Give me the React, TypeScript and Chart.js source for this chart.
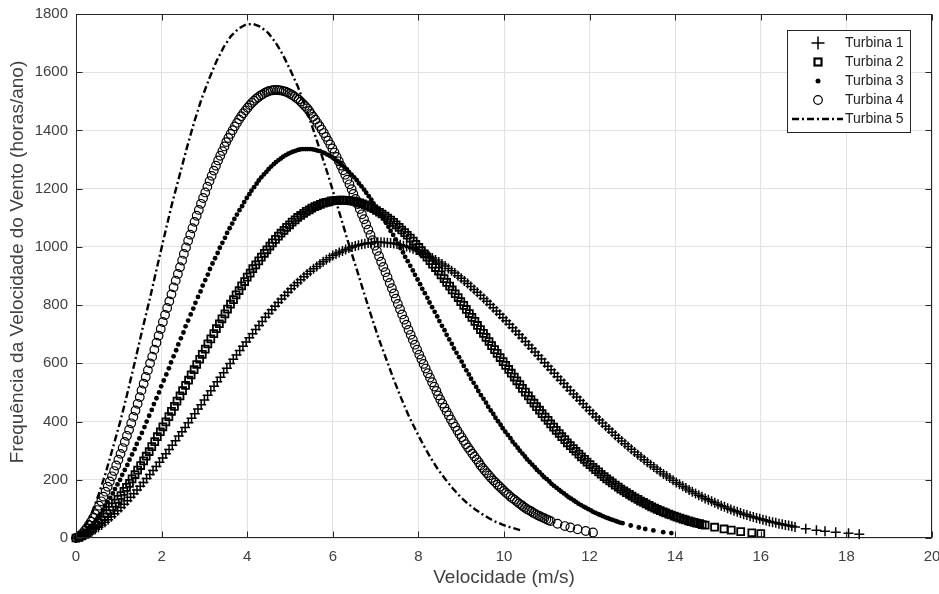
import React, { useEffect, useRef } from "react";
import { Chart, registerables } from "chart.js";

Chart.register(...registerables);

const FONT = '"Liberation Sans", Arial, Helvetica, sans-serif';
const TEXT = "#404040";
const AXIS = "#262626";

const X_TICKS = [0, 2, 4, 6, 8, 10, 12, 14, 16, 18, 20];
const Y_TICKS = [0, 200, 400, 600, 800, 1000, 1200, 1400, 1600, 1800];
const X_TITLE = "Velocidade (m/s)";
const Y_TITLE = "Frequência da Velocidade do Vento (horas/ano)";
const NAMES = ["Turbina 1", "Turbina 2", "Turbina 3", "Turbina 4", "Turbina 5"];

const T1_X = [0, 0.15, 0.3, 0.45, 0.6, 0.75, 0.9, 1.05, 1.2, 1.35, 1.5, 1.65, 1.8, 1.95, 2.1, 2.25, 2.4, 2.55, 2.7, 2.85, 3, 3.15, 3.3, 3.45, 3.6, 3.75, 3.9, 4.05, 4.2, 4.35, 4.5, 4.65, 4.8, 4.95, 5.1, 5.25, 5.4, 5.55, 5.7, 5.85, 6, 6.15, 6.3, 6.45, 6.6, 6.75, 6.9, 7.05, 7.2, 7.35, 7.5, 7.65, 7.8, 7.95, 8.1, 8.25, 8.4, 8.55, 8.7, 8.85, 9, 9.15, 9.3, 9.45, 9.6, 9.75, 9.9, 10.05, 10.2, 10.35, 10.5, 10.65, 10.8, 10.95, 11.1, 11.25, 11.4, 11.55, 11.7, 11.85, 12, 12.15, 12.3, 12.45, 12.6, 12.75, 12.9, 13.05, 13.2, 13.35, 13.5, 13.65, 13.8, 13.95, 14.1, 14.25, 14.4, 14.55, 14.7, 14.85, 15, 15.15, 15.3, 15.45, 15.6, 15.75, 15.9, 16.05, 16.2, 16.35, 16.5, 16.65, 16.8, 17.05, 17.3, 17.5, 17.75, 18.05, 18.3];
const T1_Y = [0, 6, 16, 30, 45, 63, 83, 105, 128, 152, 178, 204, 232, 260, 289, 319, 350, 380, 411, 443, 474, 506, 537, 568, 599, 629, 659, 688, 716, 744, 771, 796, 821, 844, 867, 887, 907, 925, 941, 956, 970, 981, 991, 1000, 1006, 1011, 1014, 1016, 1015, 1013, 1010, 1004, 998, 989, 979, 968, 955, 941, 926, 910, 892, 874, 854, 834, 813, 791, 769, 746, 722, 699, 675, 651, 627, 602, 578, 554, 531, 507, 484, 461, 438, 416, 395, 374, 353, 333, 314, 295, 278, 260, 244, 228, 213, 198, 185, 172, 159, 147, 136, 126, 116, 107, 98, 90, 82, 75, 69, 63, 57, 52, 47, 43, 38, 32, 27, 23, 20, 16, 13];
const T1M_X = [0.075, 0.225, 0.375, 0.525, 0.675, 0.825, 0.975, 1.125, 1.275, 1.425, 1.575, 1.725, 1.875, 2.025, 2.175, 2.325, 2.475, 2.625, 2.775, 2.925, 3.075, 3.225, 3.375, 3.525, 3.675, 3.825, 3.975, 4.125, 4.275, 4.425, 4.575, 4.725, 4.875, 5.025, 5.175, 5.325, 5.475, 5.625, 5.775, 5.925, 6.075, 6.225, 6.375, 6.525, 6.675, 6.825, 6.975, 7.125, 7.275, 7.425, 7.575, 7.725, 7.875, 8.025, 8.175, 8.325, 8.475, 8.625, 8.775, 8.925, 9.075, 9.225, 9.375, 9.525, 9.675, 9.825, 9.975, 10.125, 10.275, 10.425, 10.575, 10.725, 10.875, 11.025, 11.175, 11.325, 11.475, 11.625, 11.775, 11.925, 12.075, 12.225, 12.375, 12.525, 12.675, 12.825, 12.975, 13.125, 13.275, 13.425, 13.575, 13.725, 13.875, 14.025, 14.175, 14.325, 14.475, 14.625, 14.775, 14.925, 15.075, 15.225, 15.375, 15.525, 15.675, 15.825, 15.975, 16.125, 16.275, 16.425, 16.575, 16.725];
const T1M_Y = [2, 10, 22, 37, 54, 73, 94, 116, 140, 165, 191, 218, 246, 275, 304, 334, 365, 396, 427, 458, 490, 521, 552, 583, 614, 644, 673, 702, 730, 758, 784, 809, 833, 856, 877, 897, 916, 933, 949, 963, 976, 986, 996, 1003, 1009, 1013, 1015, 1016, 1014, 1012, 1007, 1001, 994, 984, 974, 962, 948, 934, 918, 901, 883, 864, 844, 823, 802, 780, 757, 734, 711, 687, 663, 639, 615, 590, 566, 542, 519, 495, 472, 449, 427, 405, 384, 363, 343, 324, 305, 286, 269, 252, 236, 220, 206, 191, 178, 165, 153, 142, 131, 121, 111, 102, 94, 86, 79, 72, 66, 60, 54, 49, 45, 40];

const T2_X = [0, 0.13, 0.26, 0.39, 0.53, 0.66, 0.79, 0.92, 1.05, 1.18, 1.31, 1.44, 1.58, 1.71, 1.84, 1.97, 2.1, 2.23, 2.36, 2.49, 2.63, 2.76, 2.89, 3.02, 3.15, 3.28, 3.41, 3.54, 3.68, 3.81, 3.94, 4.07, 4.2, 4.33, 4.46, 4.59, 4.73, 4.86, 4.99, 5.12, 5.25, 5.38, 5.51, 5.64, 5.78, 5.91, 6.04, 6.17, 6.3, 6.43, 6.56, 6.69, 6.83, 6.96, 7.09, 7.22, 7.35, 7.48, 7.61, 7.74, 7.88, 8.01, 8.14, 8.27, 8.4, 8.53, 8.66, 8.79, 8.93, 9.06, 9.19, 9.32, 9.45, 9.58, 9.71, 9.84, 9.98, 10.11, 10.24, 10.37, 10.5, 10.63, 10.76, 10.89, 11.03, 11.16, 11.29, 11.42, 11.55, 11.68, 11.81, 11.94, 12.08, 12.21, 12.34, 12.47, 12.6, 12.73, 12.86, 12.99, 13.13, 13.26, 13.39, 13.52, 13.65, 13.78, 13.91, 14.04, 14.18, 14.31, 14.44, 14.57, 14.7, 14.92, 15.14, 15.31, 15.53, 15.79, 16.0];
const T2_Y = [0, 7, 18, 34, 52, 73, 95, 120, 146, 174, 203, 233, 265, 297, 331, 365, 399, 435, 470, 506, 542, 578, 614, 649, 684, 719, 753, 786, 819, 850, 881, 910, 938, 965, 990, 1014, 1037, 1057, 1076, 1093, 1108, 1122, 1133, 1142, 1150, 1155, 1159, 1161, 1160, 1158, 1154, 1148, 1140, 1131, 1119, 1106, 1092, 1076, 1058, 1040, 1020, 998, 976, 953, 929, 904, 878, 852, 826, 799, 771, 744, 716, 689, 661, 634, 606, 579, 553, 527, 501, 475, 451, 427, 404, 381, 359, 338, 317, 298, 279, 261, 243, 227, 211, 196, 182, 168, 156, 144, 133, 122, 112, 103, 94, 86, 79, 72, 65, 59, 54, 49, 44, 37, 31, 27, 22, 18, 15];
const T2M_X = [0.07, 0.2, 0.33, 0.46, 0.59, 0.72, 0.85, 0.98, 1.12, 1.25, 1.38, 1.51, 1.64, 1.77, 1.9, 2.03, 2.17, 2.3, 2.43, 2.56, 2.69, 2.82, 2.95, 3.08, 3.22, 3.35, 3.48, 3.61, 3.74, 3.87, 4.0, 4.13, 4.27, 4.4, 4.53, 4.66, 4.79, 4.92, 5.05, 5.18, 5.32, 5.45, 5.58, 5.71, 5.84, 5.97, 6.1, 6.23, 6.37, 6.5, 6.63, 6.76, 6.89, 7.02, 7.15, 7.28, 7.42, 7.55, 7.68, 7.81, 7.94, 8.07, 8.2, 8.33, 8.47, 8.6, 8.73, 8.86, 8.99, 9.12, 9.25, 9.38, 9.52, 9.65, 9.78, 9.91, 10.04, 10.17, 10.3, 10.43, 10.57, 10.7, 10.83, 10.96, 11.09, 11.22, 11.35, 11.48, 11.62, 11.75, 11.88, 12.01, 12.14, 12.27, 12.4, 12.53, 12.67, 12.8, 12.93, 13.06, 13.19, 13.32, 13.45, 13.58, 13.72, 13.85, 13.98, 14.11, 14.24, 14.37, 14.5, 14.63];
const T2M_Y = [2, 12, 26, 43, 62, 84, 107, 133, 160, 188, 218, 249, 281, 314, 348, 382, 417, 452, 488, 524, 560, 596, 631, 667, 702, 736, 770, 803, 835, 866, 896, 925, 952, 978, 1003, 1026, 1047, 1067, 1085, 1101, 1115, 1127, 1138, 1146, 1153, 1158, 1160, 1161, 1159, 1156, 1151, 1144, 1136, 1125, 1113, 1099, 1084, 1067, 1049, 1030, 1009, 987, 965, 941, 917, 891, 865, 839, 812, 785, 758, 730, 703, 675, 647, 620, 593, 566, 540, 514, 488, 463, 439, 415, 392, 370, 348, 327, 307, 288, 270, 252, 235, 219, 203, 189, 175, 162, 150, 138, 127, 117, 107, 98, 90, 82, 75, 68, 62, 56, 51, 46];

const T3_X = [0, 0.11, 0.23, 0.34, 0.46, 0.57, 0.68, 0.8, 0.91, 1.03, 1.14, 1.25, 1.37, 1.48, 1.6, 1.71, 1.82, 1.94, 2.05, 2.17, 2.28, 2.39, 2.51, 2.62, 2.74, 2.85, 2.96, 3.08, 3.19, 3.31, 3.42, 3.53, 3.65, 3.76, 3.88, 3.99, 4.1, 4.22, 4.33, 4.45, 4.56, 4.67, 4.79, 4.9, 5.02, 5.13, 5.24, 5.36, 5.47, 5.59, 5.7, 5.81, 5.93, 6.04, 6.16, 6.27, 6.38, 6.5, 6.61, 6.73, 6.84, 6.95, 7.07, 7.18, 7.3, 7.41, 7.52, 7.64, 7.75, 7.87, 7.98, 8.09, 8.21, 8.32, 8.44, 8.55, 8.66, 8.78, 8.89, 9.01, 9.12, 9.23, 9.35, 9.46, 9.58, 9.69, 9.8, 9.92, 10.03, 10.15, 10.26, 10.37, 10.49, 10.6, 10.72, 10.83, 10.94, 11.06, 11.17, 11.29, 11.4, 11.51, 11.63, 11.74, 11.86, 11.97, 12.08, 12.2, 12.31, 12.43, 12.54, 12.65, 12.77, 12.96, 13.15, 13.3, 13.49, 13.72, 13.91];
const T3_Y = [0, 8, 21, 39, 60, 83, 110, 138, 168, 200, 234, 269, 305, 342, 381, 420, 460, 500, 541, 583, 624, 665, 706, 747, 788, 828, 867, 905, 943, 979, 1014, 1048, 1080, 1111, 1140, 1168, 1193, 1217, 1239, 1258, 1276, 1291, 1304, 1315, 1324, 1330, 1335, 1336, 1336, 1333, 1329, 1322, 1313, 1302, 1289, 1274, 1257, 1239, 1218, 1197, 1174, 1149, 1124, 1097, 1069, 1041, 1011, 981, 951, 919, 888, 856, 825, 793, 761, 729, 698, 667, 636, 606, 576, 547, 519, 491, 465, 438, 413, 389, 365, 343, 321, 300, 280, 261, 243, 226, 209, 194, 179, 165, 153, 140, 129, 118, 108, 99, 90, 82, 75, 68, 62, 56, 51, 43, 36, 31, 26, 20, 17];
const T3M_X = [0.06, 0.17, 0.29, 0.4, 0.51, 0.63, 0.74, 0.86, 0.97, 1.08, 1.2, 1.31, 1.42, 1.54, 1.65, 1.77, 1.88, 1.99, 2.11, 2.22, 2.34, 2.45, 2.56, 2.68, 2.79, 2.91, 3.02, 3.13, 3.25, 3.36, 3.48, 3.59, 3.7, 3.82, 3.93, 4.05, 4.16, 4.27, 4.39, 4.5, 4.62, 4.73, 4.84, 4.96, 5.07, 5.19, 5.3, 5.41, 5.53, 5.64, 5.76, 5.87, 5.99, 6.1, 6.21, 6.33, 6.44, 6.56, 6.67, 6.78, 6.9, 7.01, 7.13, 7.24, 7.35, 7.47, 7.58, 7.69, 7.81, 7.92, 8.04, 8.15, 8.26, 8.38, 8.49, 8.61, 8.72, 8.83, 8.95, 9.06, 9.18, 9.29, 9.4, 9.52, 9.63, 9.75, 9.86, 9.97, 10.09, 10.2, 10.32, 10.43, 10.54, 10.66, 10.77, 10.89, 11.0, 11.11, 11.23, 11.34, 11.46, 11.57, 11.68, 11.8, 11.91, 12.03, 12.14, 12.25, 12.37, 12.48, 12.6, 12.71];
const T3M_Y = [3, 14, 30, 49, 71, 96, 123, 153, 184, 217, 251, 287, 323, 361, 400, 440, 480, 521, 562, 603, 645, 686, 727, 768, 808, 847, 886, 924, 961, 997, 1031, 1064, 1096, 1126, 1154, 1181, 1205, 1228, 1249, 1267, 1284, 1298, 1310, 1320, 1327, 1333, 1336, 1336, 1335, 1331, 1325, 1317, 1307, 1295, 1281, 1266, 1248, 1229, 1208, 1186, 1162, 1137, 1111, 1083, 1055, 1026, 996, 966, 935, 904, 872, 841, 809, 777, 745, 714, 682, 651, 621, 591, 562, 533, 505, 478, 451, 426, 401, 377, 354, 331, 310, 290, 270, 252, 234, 217, 202, 186, 172, 159, 146, 135, 124, 113, 104, 95, 86, 79, 71, 65, 59, 53];

const T4_X = [0, 0.1, 0.2, 0.3, 0.4, 0.5, 0.59, 0.69, 0.79, 0.89, 0.99, 1.09, 1.19, 1.29, 1.39, 1.49, 1.58, 1.68, 1.78, 1.88, 1.98, 2.08, 2.18, 2.28, 2.38, 2.48, 2.57, 2.67, 2.77, 2.87, 2.97, 3.07, 3.17, 3.27, 3.37, 3.47, 3.56, 3.66, 3.76, 3.86, 3.96, 4.06, 4.16, 4.26, 4.36, 4.46, 4.55, 4.65, 4.75, 4.85, 4.95, 5.05, 5.15, 5.25, 5.35, 5.45, 5.54, 5.64, 5.74, 5.84, 5.94, 6.04, 6.14, 6.24, 6.34, 6.44, 6.53, 6.63, 6.73, 6.83, 6.93, 7.03, 7.13, 7.23, 7.33, 7.43, 7.52, 7.62, 7.72, 7.82, 7.92, 8.02, 8.12, 8.22, 8.32, 8.42, 8.51, 8.61, 8.71, 8.81, 8.91, 9.01, 9.11, 9.21, 9.31, 9.41, 9.5, 9.6, 9.7, 9.8, 9.9, 10.0, 10.1, 10.2, 10.3, 10.4, 10.49, 10.59, 10.69, 10.79, 10.89, 10.99, 11.09, 11.25, 11.42, 11.55, 11.72, 11.91, 12.08];
const T4_Y = [0, 9, 24, 45, 69, 96, 126, 159, 194, 230, 269, 309, 351, 394, 438, 484, 530, 576, 623, 671, 718, 766, 813, 861, 907, 953, 998, 1042, 1086, 1127, 1168, 1207, 1244, 1279, 1313, 1345, 1374, 1401, 1426, 1449, 1469, 1487, 1502, 1514, 1524, 1532, 1537, 1539, 1538, 1535, 1530, 1522, 1511, 1499, 1484, 1467, 1447, 1426, 1403, 1378, 1352, 1324, 1294, 1263, 1231, 1198, 1165, 1130, 1095, 1059, 1023, 986, 949, 913, 876, 840, 804, 768, 733, 698, 664, 630, 598, 566, 535, 505, 476, 448, 421, 394, 369, 346, 322, 301, 280, 260, 241, 223, 206, 191, 176, 162, 149, 136, 125, 114, 104, 95, 86, 78, 71, 64, 58, 49, 41, 36, 30, 24, 19];
const T4M_X = [0.05, 0.15, 0.25, 0.35, 0.45, 0.54, 0.64, 0.74, 0.84, 0.94, 1.04, 1.14, 1.24, 1.34, 1.44, 1.53, 1.63, 1.73, 1.83, 1.93, 2.03, 2.13, 2.23, 2.33, 2.43, 2.52, 2.62, 2.72, 2.82, 2.92, 3.02, 3.12, 3.22, 3.32, 3.42, 3.51, 3.61, 3.71, 3.81, 3.91, 4.01, 4.11, 4.21, 4.31, 4.41, 4.5, 4.6, 4.7, 4.8, 4.9, 5.0, 5.1, 5.2, 5.3, 5.4, 5.49, 5.59, 5.69, 5.79, 5.89, 5.99, 6.09, 6.19, 6.29, 6.39, 6.48, 6.58, 6.68, 6.78, 6.88, 6.98, 7.08, 7.18, 7.28, 7.38, 7.47, 7.57, 7.67, 7.77, 7.87, 7.97, 8.07, 8.17, 8.27, 8.37, 8.46, 8.56, 8.66, 8.76, 8.86, 8.96, 9.06, 9.16, 9.26, 9.36, 9.45, 9.55, 9.65, 9.75, 9.85, 9.95, 10.05, 10.15, 10.25, 10.35, 10.44, 10.54, 10.64, 10.74, 10.84, 10.94, 11.04];
const T4M_Y = [3, 16, 34, 56, 82, 111, 142, 176, 212, 249, 289, 330, 372, 416, 461, 507, 553, 600, 647, 695, 742, 790, 837, 884, 930, 976, 1021, 1064, 1107, 1148, 1187, 1226, 1262, 1297, 1329, 1360, 1388, 1414, 1438, 1459, 1478, 1495, 1509, 1520, 1529, 1535, 1538, 1539, 1537, 1533, 1526, 1517, 1506, 1492, 1476, 1457, 1437, 1415, 1391, 1365, 1338, 1309, 1279, 1248, 1215, 1182, 1147, 1112, 1077, 1041, 1004, 968, 931, 895, 858, 822, 786, 750, 715, 681, 647, 614, 582, 551, 520, 490, 462, 434, 407, 382, 357, 334, 311, 290, 270, 250, 232, 215, 198, 183, 169, 155, 142, 131, 119, 109, 99, 91, 82, 75, 68, 61];

const T5_X = [0, 0.17, 0.35, 0.52, 0.69, 0.86, 1.04, 1.21, 1.38, 1.55, 1.73, 1.9, 2.07, 2.24, 2.42, 2.59, 2.76, 2.93, 3.11, 3.28, 3.45, 3.62, 3.8, 3.97, 4.14, 4.31, 4.49, 4.66, 4.83, 5.0, 5.18, 5.35, 5.52, 5.69, 5.87, 6.04, 6.21, 6.38, 6.56, 6.73, 6.9, 7.07, 7.25, 7.42, 7.59, 7.76, 7.94, 8.11, 8.28, 8.45, 8.63, 8.8, 8.97, 9.14, 9.32, 9.49, 9.66, 9.8, 9.95, 10.06, 10.21, 10.38];
const T5_Y = [0, 28, 79, 145, 222, 309, 403, 503, 608, 716, 825, 934, 1041, 1146, 1246, 1340, 1428, 1507, 1577, 1637, 1686, 1724, 1750, 1764, 1766, 1756, 1735, 1703, 1661, 1610, 1552, 1485, 1413, 1337, 1256, 1174, 1090, 1006, 923, 841, 762, 686, 614, 546, 483, 424, 370, 321, 277, 237, 202, 171, 143, 120, 99, 82, 67, 56, 47, 41, 34, 27];

function pts(xs: number[], ys: number[]) {
  const n = Math.min(xs.length, ys.length);
  const out: { x: number; y: number }[] = [];
  for (let i = 0; i < n; i++) out.push({ x: xs[i], y: ys[i] });
  return out;
}

const framePlugin = {
  id: "matlabFrame",
  afterDatasetsDraw(chart: any) {
    const { ctx, chartArea, scales } = chart;
    const L = Math.round(chartArea.left) + 0.5;
    const R = Math.round(chartArea.right) - 0.5;
    const T = Math.round(chartArea.top) + 0.5;
    const B = Math.round(chartArea.bottom) - 0.5;
    ctx.save();
    ctx.strokeStyle = AXIS;
    ctx.lineWidth = 1;
    ctx.setLineDash([]);
    ctx.beginPath();
    const tl = 6;
    X_TICKS.forEach((v) => {
      const px = Math.round(scales.x.getPixelForValue(v)) + 0.5;
      ctx.moveTo(px, B);
      ctx.lineTo(px, B - tl);
      ctx.moveTo(px, T);
      ctx.lineTo(px, T + tl);
    });
    Y_TICKS.forEach((v) => {
      const py = Math.round(scales.y.getPixelForValue(v)) + 0.5;
      ctx.moveTo(L, py);
      ctx.lineTo(L + tl, py);
      ctx.moveTo(R, py);
      ctx.lineTo(R - tl, py);
    });
    ctx.stroke();
    ctx.strokeRect(L, T, R - L, B - T);

    // y-axis title
    ctx.save();
    ctx.translate(18, 262);
    ctx.rotate(-Math.PI / 2);
    ctx.font = `19px ${FONT}`;
    ctx.fillStyle = TEXT;
    ctx.textAlign = "center";
    ctx.textBaseline = "middle";
    ctx.fillText(Y_TITLE, 0, 0);
    ctx.restore();

    // legend
    const lx = 787.5, ly = 30.5, lw = 123, lh = 102;
    ctx.fillStyle = "#ffffff";
    ctx.fillRect(lx, ly, lw, lh);
    ctx.strokeStyle = AXIS;
    ctx.lineWidth = 1;
    ctx.strokeRect(lx, ly, lw, lh);
    const mx = 818;
    ctx.font = `14px ${FONT}`;
    ctx.textBaseline = "middle";
    ctx.textAlign = "left";
    NAMES.forEach((name, i) => {
      const cy = 43 + i * 19;
      ctx.strokeStyle = "#000";
      ctx.fillStyle = "#000";
      ctx.setLineDash([]);
      if (i === 0) {
        ctx.lineWidth = 1.5;
        ctx.beginPath();
        ctx.moveTo(mx - 6.5, cy);
        ctx.lineTo(mx + 6.5, cy);
        ctx.moveTo(mx, cy - 6.5);
        ctx.lineTo(mx, cy + 6.5);
        ctx.stroke();
      } else if (i === 1) {
        ctx.lineWidth = 2.2;
        ctx.strokeRect(mx - 3.5, cy - 3.5, 7, 7);
      } else if (i === 2) {
        ctx.beginPath();
        ctx.arc(mx, cy, 2.5, 0, Math.PI * 2);
        ctx.fill();
      } else if (i === 3) {
        ctx.lineWidth = 1.2;
        ctx.beginPath();
        ctx.arc(mx, cy, 4.3, 0, Math.PI * 2);
        ctx.stroke();
      } else {
        ctx.lineWidth = 2.4;
        ctx.setLineDash([7, 3, 2, 3]);
        ctx.beginPath();
        ctx.moveTo(792, cy);
        ctx.lineTo(843, cy);
        ctx.stroke();
        ctx.setLineDash([]);
      }
      ctx.fillStyle = "#1e1e1e";
      ctx.fillText(name, 845, cy);
    });
    ctx.restore();
  },
};

export default function App() {
  const ref = useRef<HTMLCanvasElement | null>(null);

  useEffect(() => {
    if (!ref.current) return;
    const tickFont = { family: FONT, size: 15 };
    const titleFont = { family: FONT, size: 19 };
    const none = "rgba(0,0,0,0)";
    const chart = new Chart(ref.current, {
      type: "scatter",
      data: {
        datasets: [
          {
            label: NAMES[0],
            data: pts(T1_X, T1_Y).concat(pts(T1M_X, T1M_Y)),
            showLine: false,
            pointStyle: "cross",
            pointRadius: 5,
            pointBorderWidth: 1.5,
            borderColor: "#000",
            pointBorderColor: "#000",
            backgroundColor: none,
            clip: false as any,
            order: 4,
          },
          {
            label: NAMES[1],
            data: pts(T2_X, T2_Y).concat(pts(T2M_X, T2M_Y)),
            showLine: false,
            pointStyle: "rect",
            pointRadius: 4.9,
            pointBorderWidth: 1.8,
            borderColor: "#000",
            pointBorderColor: "#000",
            backgroundColor: none,
            pointBackgroundColor: none,
            clip: false as any,
            order: 3,
          },
          {
            label: NAMES[2],
            data: pts(T3_X, T3_Y).concat(pts(T3M_X, T3M_Y)),
            showLine: false,
            pointStyle: "circle",
            pointRadius: 2.4,
            pointBorderWidth: 0,
            borderColor: "#000",
            backgroundColor: "#000",
            pointBackgroundColor: "#000",
            clip: false as any,
            order: 2,
          },
          {
            label: NAMES[3],
            data: pts(T4_X, T4_Y).concat(pts(T4M_X, T4M_Y)),
            showLine: false,
            pointStyle: "circle",
            pointRadius: 4.3,
            pointBorderWidth: 1.2,
            borderColor: "#000",
            pointBorderColor: "#000",
            backgroundColor: none,
            pointBackgroundColor: none,
            clip: false as any,
            order: 1,
          },
          {
            label: NAMES[4],
            data: pts(T5_X, T5_Y),
            showLine: true,
            pointRadius: 0,
            borderColor: "#000",
            borderWidth: 2.4,
            borderDash: [7, 3, 2, 3],
            tension: 0,
            fill: false,
            order: 0,
          },
        ],
      },
      options: {
        animation: false,
        responsive: false,
        maintainAspectRatio: false,
        events: [],
        layout: { padding: { left: 0, right: 7, top: 14, bottom: 0 } },
        plugins: { legend: { display: false }, tooltip: { enabled: false } },
        scales: {
          x: {
            type: "linear",
            position: "bottom",
            min: 0,
            max: 20,
            afterBuildTicks: (scale: any) => {
              scale.ticks = X_TICKS.map((v) => ({ value: v }));
            },
            afterFit: (scale: any) => {
              scale.height = 56;
              scale.paddingLeft = 0;
              scale.paddingRight = 0;
            },
            grid: { color: "#e2e2e2", lineWidth: 1, drawTicks: false },
            border: { display: false },
            ticks: {
              font: tickFont,
              color: TEXT,
              padding: 10,
              maxRotation: 0,
              autoSkip: false,
              callback: (v: any) => String(v),
            },
            title: { display: true, text: X_TITLE, font: titleFont, color: TEXT, padding: { top: 0, bottom: 5 } },
          },
          y: {
            type: "linear",
            position: "left",
            min: 0,
            max: 1800,
            afterBuildTicks: (scale: any) => {
              scale.ticks = Y_TICKS.map((v) => ({ value: v }));
            },
            afterFit: (scale: any) => {
              scale.width = 76;
              scale.paddingTop = 0;
              scale.paddingBottom = 0;
            },
            grid: { color: "#e2e2e2", lineWidth: 1, drawTicks: false },
            border: { display: false },
            ticks: {
              font: tickFont,
              color: TEXT,
              padding: 8,
              autoSkip: false,
              callback: (v: any) => String(v),
            },
            title: { display: false },
          },
        },
      } as any,
      plugins: [framePlugin],
    });
    return () => chart.destroy();
  }, []);

  return (
    <div style={{ position: "absolute", left: 0, top: 0, width: 939, height: 594, background: "#fff" }}>
      <canvas ref={ref} width={939} height={594} style={{ width: 939, height: 594, display: "block" }} />
    </div>
  );
}
